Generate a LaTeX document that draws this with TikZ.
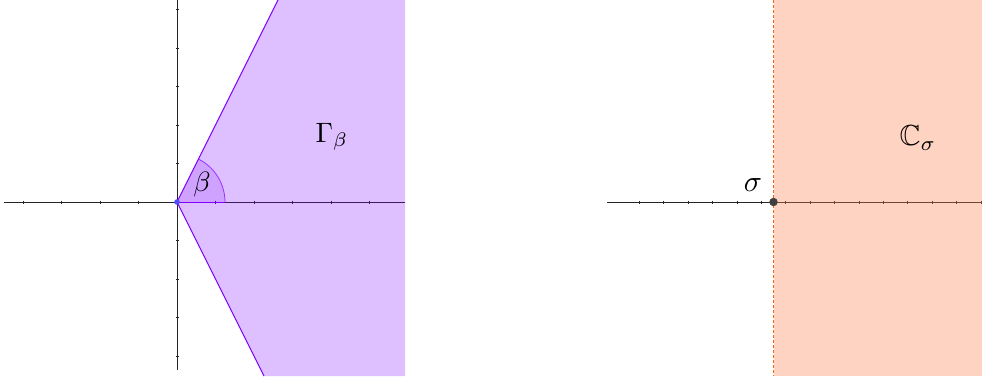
\documentclass[tikz,border=0pt]{standalone}
\usepackage{amssymb}
\begin{document}
\begin{tikzpicture}[x=1pt,y=-1pt,
  axis/.style={draw=black!85, line width=0.8pt},
  tick/.style={draw=black!85, line width=0.6pt},
  edge/.style={draw=violetline, line width=1.1pt},
  lbl/.style={inner sep=0pt}]
\definecolor{violetline}{RGB}{127,0,255}
\definecolor{orangefill}{RGB}{255,130,80}
\definecolor{orangeline}{RGB}{245,100,20}
\definecolor{bluedot}{RGB}{77,77,255}
\useasboundingbox (0,0) rectangle (982,376);
\fill[white] (0,0) rectangle (982,376);
% ---------- left picture ----------
\coordinate (O) at (177,202);
\coordinate (Ltop) at (278,0);
\coordinate (Lbot) at (264,376);
\coordinate (Rtop) at (405,0);
\coordinate (Rbot) at (405,376);
\coordinate (Xl) at (4,202);
\coordinate (Xr) at (405,202);
\coordinate (Yt) at (177,0);
\coordinate (Yb) at (177,370);
\draw[axis] (Xl) -- (Xr);
\draw[axis] (Yt) -- (Yb);
\foreach \x in {23,61.5,100,138.5,215.5,254,292.5,331,369.5}
  \draw[tick] (\x,200.5) -- (\x,203.5);
\foreach \y in {9.5,48,86.5,125,163.5,240.5,279,317.5,356}
  \draw[tick] (175.5,\y) -- (178.5,\y);
\fill[violetline, opacity=0.25] (O) -- (Ltop) -- (Rtop) -- (Rbot) -- (Lbot) -- cycle;
\fill[violetline, opacity=0.15] (O) -- (225,202) arc[start angle=0, end angle=-63.43, radius=48] -- cycle;
\draw[violetline!80, line width=0.8pt] (225,202) arc[start angle=0, end angle=-63.43, radius=48];
\draw[edge] (O) -- (Ltop);
\draw[edge] (O) -- (Lbot);
\draw[violetline, line width=0.8pt] (O) -- (225,202);
\fill[bluedot] (O) circle[radius=2.8];
\node[lbl, scale=2.8] (gamma) at (332,137) {$\Gamma_{\beta}$};
\node[lbl, scale=2.8] (beta) at (202,184) {$\beta$};
% ---------- right picture ----------
\coordinate (S) at (773.5,202);
\coordinate (St) at (773.5,0);
\coordinate (Sb) at (773.5,376);
\coordinate (Xl2) at (607,202);
\coordinate (Xr2) at (982,202);
\draw[axis] (Xl2) -- (Xr2);
\foreach \x in {639.3,663.7,688.1,712.5,736.9,761.3,785.7,810.1,834.5,858.9,883.3,907.7,932.1,956.5,980.9}
  \draw[tick] (\x,200.5) -- (\x,203.5);
\fill[orangefill, opacity=0.35] (St) rectangle (982,376);
\draw[orangeline, line width=1pt, dash pattern=on 3pt off 2pt] (St) -- (Sb);
\fill[black!75] (S) circle[radius=4.2];
\node[lbl, scale=3] (sigma) at (753,185.5) {$\sigma$};
\node[lbl, scale=2.9] (Csig) at (918,138) {$\mathbb{C}_{\sigma}$};
\end{tikzpicture}
\end{document}
